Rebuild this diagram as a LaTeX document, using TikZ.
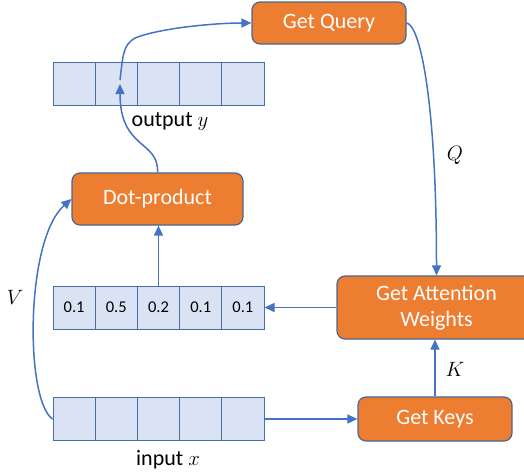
\documentclass[tikz,border=0pt]{standalone}
\usepackage{fontspec}
\setmainfont{Carlito}
\usetikzlibrary{arrows.meta}
\definecolor{orng}{HTML}{ED7D31}
\definecolor{obord}{HTML}{4A6790}
\definecolor{cellfill}{HTML}{DAE3F3}
\definecolor{cellbord}{HTML}{4A6FA5}
\definecolor{arrc}{HTML}{4472C4}
\tikzset{
  opbox/.style={draw=obord, line width=1.2, fill=orng, rounded corners=8, text=white,
    font=\fontsize{22}{26}\selectfont, inner sep=0, align=center},
  cell/.style={draw=cellbord, fill=cellfill, line width=1, minimum width=42.2,
    minimum height=43, inner sep=0, font=\fontsize{16.5}{18}\selectfont},
  lbl/.style={font=\fontsize{22}{26}\selectfont, inner sep=0},
  conn/.style={draw=arrc, line width=1.5},
  arr/.style={conn, -{Triangle[length=10,width=9]}}
}
\begin{document}
\begin{tikzpicture}[x=1pt,y=-1pt]
\useasboundingbox (0,0) rectangle (524,474);
\clip (0,0) rectangle (524,474);
% operation boxes
\node[opbox, minimum width=154, minimum height=42] (query) at (329,23) {Get Query};
\node[opbox, minimum width=171, minimum height=52] (dot) at (157.5,199) {Dot-product};
\node[opbox, minimum width=199, minimum height=63] (att) at (436.5,307.5) {Get Attention\\Weights};
\node[opbox, minimum width=154, minimum height=44] (keys) at (435,419) {Get Keys};
% arrays
\foreach \i/\v in {1/0.1,2/0.5,3/0.2,4/0.1,5/0.1} {
  \node[cell] (o\i) at ({53+21.1+42.2*(\i-1)},83.5) {};
  \node[cell] (w\i) at ({53+21.1+42.2*(\i-1)},307.5) {\v};
  \node[cell] (in\i) at ({53+21.1+42.2*(\i-1)},419) {};
}
% labels
\node[lbl] (ylab) at (170,122) {output $y$};
\node[lbl] (xlab) at (168,460) {input $x$};
\node[lbl] (vlab) at (15,297) {$V$};
\node[lbl] (qlab) at (455,155) {$Q$};
\node[lbl] (klab) at (455,369) {$K$};
% coordinates in output cell
\coordinate (ytip) at (120,84);
\coordinate (ystart) at (120,80);
% connectors
\draw[arr] (dot.north) .. controls (159,140) and (120,150) .. (ytip);
\draw[arr] (ystart) .. controls (123,55) and (123,45) .. (135,38) .. controls (160,28) and (215,23) .. (query.west);
\draw[arr] (query.east) .. controls (420,25) and (436.5,100) .. (att.north);
\draw[arr] (att.west) -- (w5.east);
\draw[arr] (keys.north) -- (keys.north |- att.south);
\draw[arr] (w3.north) -- (w3.north |- dot.south);
\draw[arr] (in5.east) -- (keys.west);
\draw[arr] (in1.west) .. controls (25,400) and (25,240) .. (dot.west);
\end{tikzpicture}
\end{document}
